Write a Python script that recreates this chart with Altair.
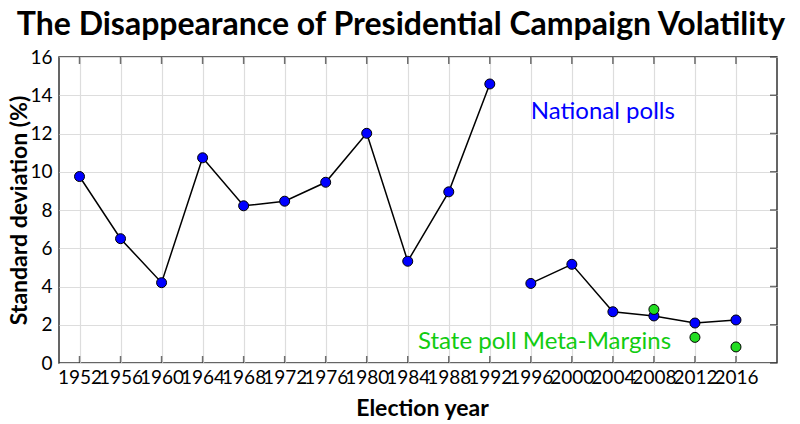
import altair as alt
import pandas as pd

years = [1952, 1956, 1960, 1964, 1968, 1972, 1976, 1980, 1984, 1988, 1992,
         1996, 2000, 2004, 2008, 2012, 2016]
national = [9.75, 6.5, 4.2, 10.73, 8.22, 8.46, 9.45, 12.01, 5.32, 8.95, 14.59,
            4.16, 5.16, 2.68, 2.46, 2.09, 2.25]
# the line breaks between 1992 and 1996
segment = ["early"] * 11 + ["late"] * 6

meta_years = [2008, 2012, 2016]
meta_margin = [2.8, 1.34, 0.84]

x_ticks = list(range(1952, 2017, 4))
y_ticks = list(range(0, 17, 2))

FONT = "Lato"
BLUE = "#0000ff"
GREEN = "#22dd22"
FRAME = "#333333"
W, H = 718, 306

nat = pd.DataFrame({"year": years, "sd": national, "segment": segment})
meta = pd.DataFrame({"year": meta_years, "sd": meta_margin})
xt = pd.DataFrame({"year": x_ticks})
yt = pd.DataFrame({"sd": y_ticks})

x_scale = alt.Scale(domain=[1950, 2020], nice=False, zero=False)
y_scale = alt.Scale(domain=[0, 16], nice=False)

x_enc = alt.X(
    "year:Q",
    scale=x_scale,
    axis=alt.Axis(
        values=x_ticks, format="d", title="Election year", labelOverlap=False,
        titleX=363, titleY=45, titleBaseline="middle", titleAlign="center",
    ),
)
y_enc = alt.Y(
    "sd:Q",
    scale=y_scale,
    axis=alt.Axis(
        values=y_ticks, title="Standard deviation (%)", labelOverlap=False,
        titleX=-40, titleY=153, titleAngle=-90,
        titleBaseline="middle", titleAlign="center",
    ),
)

line = alt.Chart(nat).mark_line(color="black", strokeWidth=1.5).encode(
    x=x_enc, y=y_enc, detail="segment:N"
)
dots = alt.Chart(nat).mark_point(
    filled=True, fill=BLUE, stroke="black", strokeWidth=1, size=100, opacity=1
).encode(x=x_enc, y=y_enc)
meta_dots = alt.Chart(meta).mark_point(
    filled=True, fill=GREEN, stroke="black", strokeWidth=1, size=100, opacity=1
).encode(x=x_enc, y=y_enc)

label_nat = alt.Chart(pd.DataFrame({"year": [1996], "sd": [13.1], "t": ["National polls"]})).mark_text(
    align="left", baseline="middle", font=FONT, fontSize=24, color=BLUE
).encode(x=x_enc, y=y_enc, text="t:N")
label_meta = alt.Chart(pd.DataFrame({"year": [1985], "sd": [1.1], "t": ["State poll Meta-Margins"]})).mark_text(
    align="left", baseline="middle", font=FONT, fontSize=24, color="#11cc11"
).encode(x=x_enc, y=y_enc, text="t:N")

# inward ticks on the bottom, top and right edges of the frame
bottom_ticks = alt.Chart(xt).mark_tick(
    orient="vertical", size=7, thickness=1.5, color=FRAME, yOffset=-3.5
).encode(x=x_enc, y=alt.value(H))
top_ticks = alt.Chart(xt).mark_tick(
    orient="vertical", size=7, thickness=1.5, color=FRAME, yOffset=3.5
).encode(x=x_enc, y=alt.value(0))
right_ticks = alt.Chart(yt).mark_tick(
    orient="horizontal", size=7, thickness=1.5, color=FRAME, xOffset=-3.5
).encode(x=alt.value(W), y=y_enc)

chart = (
    alt.layer(line, bottom_ticks, top_ticks, right_ticks, dots, meta_dots, label_nat, label_meta)
    .properties(
        width=W,
        height=H,
        autosize=alt.AutoSizeParams(type="none"),
        padding={"left": 51, "top": 49, "right": 15, "bottom": 60},
        title=alt.Title(
            "The Disappearance of Presidential Campaign Volatility",
            font=FONT, fontSize=32, fontWeight="bold", color="black",
            anchor="middle", dx=-17, offset=6,
        ),
    )
    .configure_view(stroke=FRAME, strokeWidth=1.5)
    .configure_axis(
        grid=True, gridColor="#dddddd", gridWidth=1.2,
        ticks=False, tickSize=0, domain=False, labelOverlap=False,
        labelFont=FONT, labelFontSize=19, labelColor="black", labelPadding=5,
        titleFont=FONT, titleFontSize=23, titleFontWeight="bold", titleColor="black",
    )
    .configure_axisY(labelPadding=7)
)

chart.save("out.html", embed_options={"renderer": "svg", "actions": False})
